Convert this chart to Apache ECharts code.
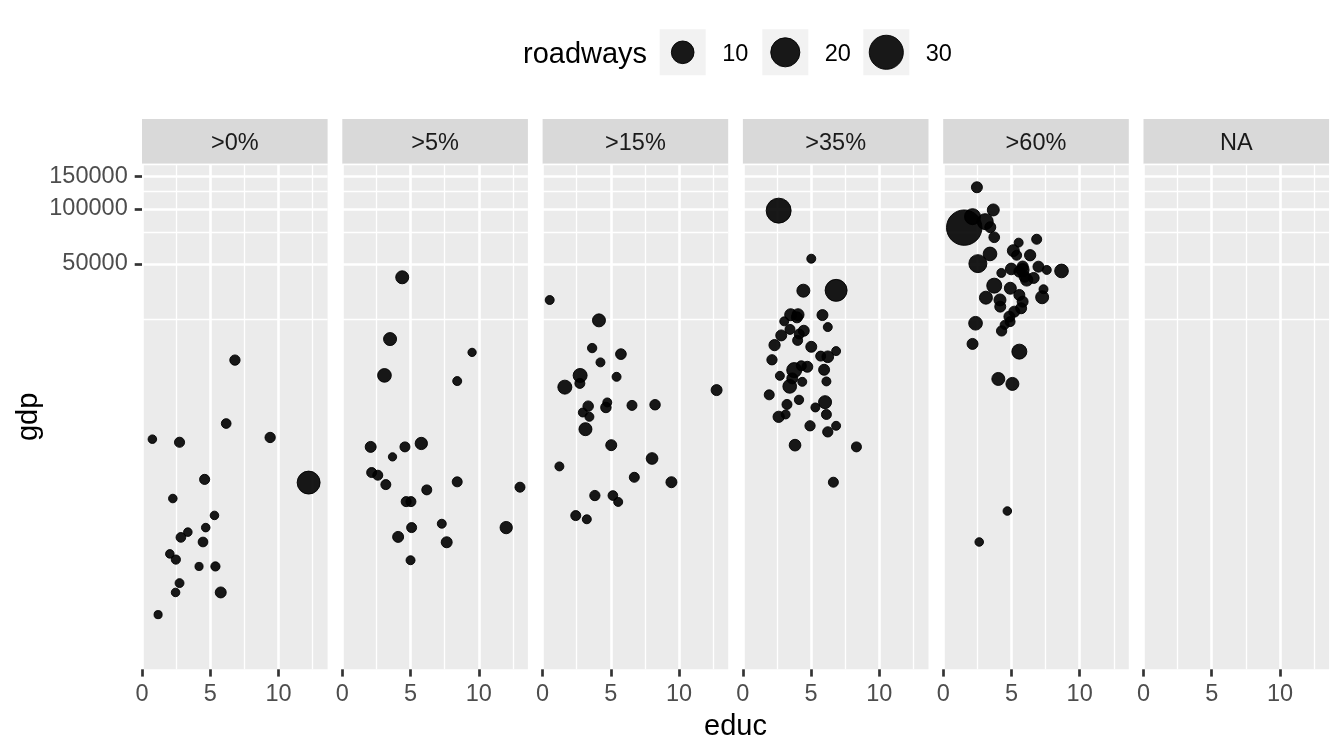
<!DOCTYPE html>
<html>
<head>
<meta charset="utf-8">
<title>gdp vs educ</title>
<script src="https://cdn.jsdelivr.net/npm/echarts@6/dist/echarts.min.js"></script>
<style>
    html, body { margin: 0; padding: 0; background: #fff; }
    #main { width: 1344px; height: 756px; }
</style>
</head>
<body>
<div id="main"></div>
<script>
var facets = ['>0%', '>5%', '>15%', '>35%', '>60%', 'NA'];
var xTicks = [0, 5, 10];
var xMinor = [2.5, 7.5, 12.5];
var yTicks = [50000, 100000, 150000];
var yMinor = [25000, 75000, 125000, 175000];
var legendBreaks = [10, 20, 30];

// [educ, gdp, roadways]
var pts0 = [[6.81,14910,0.45],[6.17,6710,0.3],[0.76,5510,0.1],[2.75,5300,0.4],[9.39,5630,0.45],
    [12.21,3190,10.4],[4.59,3320,0.4],[2.26,2610,0.1],[5.31,2110,0.1],[3.36,1710,0.1],
    [4.67,1810,0.1],[2.85,1600,0.3],[4.47,1510,0.3],[2.04,1300,0.1],[2.48,1210,0.2],
    [4.18,1110,0.05],[5.38,1110,0.2],[2.75,900,0.15],[2.46,800,0.1],[5.77,800,0.65],[1.18,605,0.05]];
var pts1 = [[4.39,42300,1.47],[3.50,19430,1.47],[9.51,16430,0.07],[3.09,12300,1.83],[8.42,11450,0.16],
    [2.08,5000,0.65],[4.59,5000,0.37],[5.79,5220,1.15],[3.68,4410,0.07],[2.15,3620,0.37],
    [2.60,3500,0.37],[3.19,3110,0.37],[8.42,3220,0.37],[13.02,3010,0.37],[6.19,2910,0.37],
    [4.68,2510,0.37],[5.03,2510,0.37],[5.08,1810,0.37],[7.29,1900,0.16],[12.01,1810,1.15],
    [4.09,1610,0.65],[7.65,1505,0.65],[5.00,1200,0.16]];
var pts2 = [[0.52,31770,0.16],[4.13,24590,1.47],[3.63,17350,0.22],[5.74,16080,0.56],[4.24,14490,0.16],
    [5.42,12080,0.16],[2.75,12290,2.0],[2.73,11120,0.37],[1.63,10610,2.0],[12.75,10220,0.65],
    [3.34,8350,0.5],[4.74,8750,0.16],[4.64,8215,0.5],[6.55,8430,0.37],[8.24,8500,0.5],
    [2.95,7710,0.16],[3.43,7300,0.16],[3.14,6250,1.47],[5.03,5110,0.65],[8.02,4320,0.9],
    [1.23,3910,0.16],[6.72,3410,0.37],[9.44,3205,0.65],[3.83,2710,0.44],[5.15,2710,0.3],
    [5.54,2500,0.16],[2.43,2105,0.37],[3.24,2010,0.16]];
var pts3 = [[2.62,97900,13.2],[5.01,53450,0.16],[4.43,35730,1.47],[6.83,35880,9.18],[3.50,26400,1.02],
    [4.04,26400,1.02],[3.96,25540,0.65],[5.83,26290,0.65],[3.03,24290,0.16],[6.22,22600,0.16],
    [3.45,21950,0.37],[4.46,21580,0.65],[4.13,20690,0.37],[2.81,20350,0.65],[4.01,19110,0.37],
    [2.32,18010,0.75],[5.01,17630,0.65],[5.70,15680,0.37],[6.22,15550,0.9],[6.83,16700,0.16],
    [2.13,14970,0.44],[3.76,13150,2.61],[4.72,13710,0.65],[4.28,13880,0.37],[5.95,13200,0.65],
    [2.71,12230,0.16],[3.62,11840,0.65],[4.35,11340,0.16],[6.12,11400,0.16],[3.43,10710,1.83],
    [1.93,9630,0.37],[4.11,9040,0.22],[3.23,8530,0.37],[6.02,8780,1.47],[5.31,8215,0.16],
    [6.12,7520,0.37],[3.13,7520,0.16],[2.62,7300,0.75],[4.92,6520,0.44],[6.83,6520,0.16],
    [6.22,6040,0.44],[3.82,5110,0.9],[8.32,5000,0.37],[6.63,3205,0.37]];
var pts4 = [[2.47,131400,0.65],[3.67,98750,1.02],[1.54,79040,33],[2.15,90770,3.3],[3.08,85240,3.3],
    [3.45,79460,0.65],[3.74,70030,0.56],[6.85,68280,0.37],[5.53,65430,0.16],[3.43,56760,1.83],
    [5.14,59160,1.02],[5.38,55830,0.37],[2.54,50230,4.94],[6.37,55830,0.75],[4.26,44670,0.16],
    [4.99,46990,0.9],[5.82,48350,0.75],[6.98,48350,0.65],[7.59,46400,0.16],[8.67,45820,1.83],
    [5.97,42650,0.75],[5.58,45410,0.65],[6.63,41950,0.65],[6.12,40900,1.15],[5.82,46400,1.47],
    [3.74,38070,2.61],[7.35,36390,0.16],[7.25,32900,1.47],[3.13,32730,1.47],[4.92,36840,1.02],
    [5.58,33870,0.65],[4.16,31800,1.02],[4.18,29230,0.65],[5.82,31130,0.65],[5.71,28640,0.65],
    [5.21,27450,0.65],[4.85,25770,0.65],[4.90,24200,0.37],[4.50,23220,0.16],[2.37,23710,1.83],
    [4.28,21530,0.44],[2.15,18280,0.65],[5.58,16590,2.61],[4.04,11760,1.47],[5.07,11050,1.47],
    [4.70,2230,0.1],[2.64,1510,0.1]];
var panelData = [pts0, pts1, pts2, pts3, pts4, []];

var FONT = '"Liberation Sans", Arial, sans-serif';
var PANEL_LEFT = 142, PANEL_STEP = 200.3, PANEL_W = 185.6;
var PANEL_TOP = 164.5, PANEL_H = 504.8;
var STRIP_TOP = 119, STRIP_H = 44.7;
var POINT_COLOR = 'rgba(0,0,0,0.9)';

// ggplot-like area scale for roadways
function dia(r) {
    return 7 + 28 * Math.sqrt(r / 32);
}

function facetChart() {
    var chart = echarts.init(document.getElementById('main'), null, {renderer: 'canvas'});
    var grids = [], xAxes = [], yAxes = [], series = [], graphics = [];

    for (var i = 0; i < facets.length; i++) {
        var left = PANEL_LEFT + PANEL_STEP * i;
        grids.push({
            left: left, top: PANEL_TOP, width: PANEL_W, height: PANEL_H,
            show: true, backgroundColor: '#EBEBEB', borderWidth: 0,
            containLabel: false, outerBoundsMode: 'none'
        });
        // major x
        xAxes.push({
            type: 'value', gridIndex: i, min: 0, max: 13.6,
            axisLine: {show: false},
            axisTick: {show: true, length: 7.3, customValues: xTicks,
                lineStyle: {color: '#333333', width: 2.7}},
            axisLabel: {show: true, customValues: xTicks, margin: 13.5,
                fontSize: 23.5, color: '#4D4D4D', fontFamily: FONT},
            splitLine: {show: true, lineStyle: {color: '#FFFFFF', width: 2.6}}
        });
        // minor x
        xAxes.push({
            type: 'value', gridIndex: i, min: 0, max: 13.6, position: 'bottom',
            axisLine: {show: false},
            axisTick: {show: false, customValues: xMinor},
            axisLabel: {show: false, customValues: xMinor},
            splitLine: {show: true, lineStyle: {color: '#FFFFFF', width: 1.3}}
        });
        // major y
        yAxes.push({
            type: 'log', logBase: 10, gridIndex: i, min: 304, max: 175000,
            axisLine: {show: false},
            axisTick: {show: i === 0, length: 7.3, customValues: yTicks,
                lineStyle: {color: '#333333', width: 2.7}},
            axisLabel: {show: i === 0, customValues: yTicks, margin: 14.3,
                fontSize: 23.5, color: '#4D4D4D', fontFamily: FONT,
                padding: [4, 0, 0, 0],
                formatter: function (v) { return String(Math.round(v)); }},
            splitLine: {show: true, lineStyle: {color: '#FFFFFF', width: 2.6}}
        });
        // minor y
        yAxes.push({
            type: 'log', logBase: 10, gridIndex: i, min: 304, max: 175000, position: 'left',
            axisLine: {show: false},
            axisTick: {show: false, customValues: yMinor},
            axisLabel: {show: false, customValues: yMinor},
            splitLine: {show: true, lineStyle: {color: '#FFFFFF', width: 1.3}}
        });

        series.push({
            type: 'scatter',
            xAxisIndex: 2 * i,
            yAxisIndex: 2 * i,
            data: panelData[i],
            symbol: 'circle',
            symbolSize: function (v) { return dia(v[2]); },
            itemStyle: {color: POINT_COLOR, borderColor: POINT_COLOR, borderWidth: 1, opacity: 1},
            emphasis: {disabled: true},
            silent: true
        });

        // strip
        graphics.push({
            type: 'rect', silent: true,
            shape: {x: left, y: STRIP_TOP, width: PANEL_W, height: STRIP_H},
            style: {fill: '#D9D9D9'}
        });
        graphics.push({
            type: 'text', silent: true,
            x: left + PANEL_W / 2, y: STRIP_TOP + STRIP_H / 2 + 2,
            style: {text: facets[i], fill: '#1A1A1A', font: '23.5px ' + FONT,
                textAlign: 'center', textVerticalAlign: 'middle'}
        });
    }

    // axis titles
    graphics.push({
        type: 'text', silent: true, x: 29, y: PANEL_TOP + PANEL_H / 2, rotation: Math.PI / 2,
        style: {text: 'gdp', fill: '#000000', font: '29px ' + FONT,
            textAlign: 'center', textVerticalAlign: 'middle'}
    });
    graphics.push({
        type: 'text', silent: true, x: 735.5, y: 726.5,
        style: {text: 'educ', fill: '#000000', font: '29px ' + FONT,
            textAlign: 'center', textVerticalAlign: 'middle'}
    });

    // size legend
    var keyX = [659.7, 762.3, 863.3];
    graphics.push({
        type: 'text', silent: true, x: 523, y: 54.5,
        style: {text: 'roadways', fill: '#000000', font: '29px ' + FONT,
            textAlign: 'left', textVerticalAlign: 'middle'}
    });
    for (var k = 0; k < legendBreaks.length; k++) {
        graphics.push({
            type: 'rect', silent: true,
            shape: {x: keyX[k], y: 29.3, width: 46, height: 46},
            style: {fill: '#F2F2F2'}
        });
        graphics.push({
            type: 'circle', silent: true,
            shape: {cx: keyX[k] + 23, cy: 52.3, r: dia(legendBreaks[k]) / 2},
            style: {fill: POINT_COLOR, stroke: POINT_COLOR, lineWidth: 1}
        });
        graphics.push({
            type: 'text', silent: true, x: keyX[k] + 62.5, y: 54.5,
            style: {text: String(legendBreaks[k]), fill: '#000000', font: '23.5px ' + FONT,
                textAlign: 'left', textVerticalAlign: 'middle'}
        });
    }

    var option = {
        animation: false,
        backgroundColor: '#FFFFFF',
        textStyle: {fontFamily: FONT},
        grid: grids,
        xAxis: xAxes,
        yAxis: yAxes,
        series: series,
        graphic: {elements: graphics}
    };
    chart.setOption(option);
    return chart;
}

facetChart();
</script>
</body>
</html>
